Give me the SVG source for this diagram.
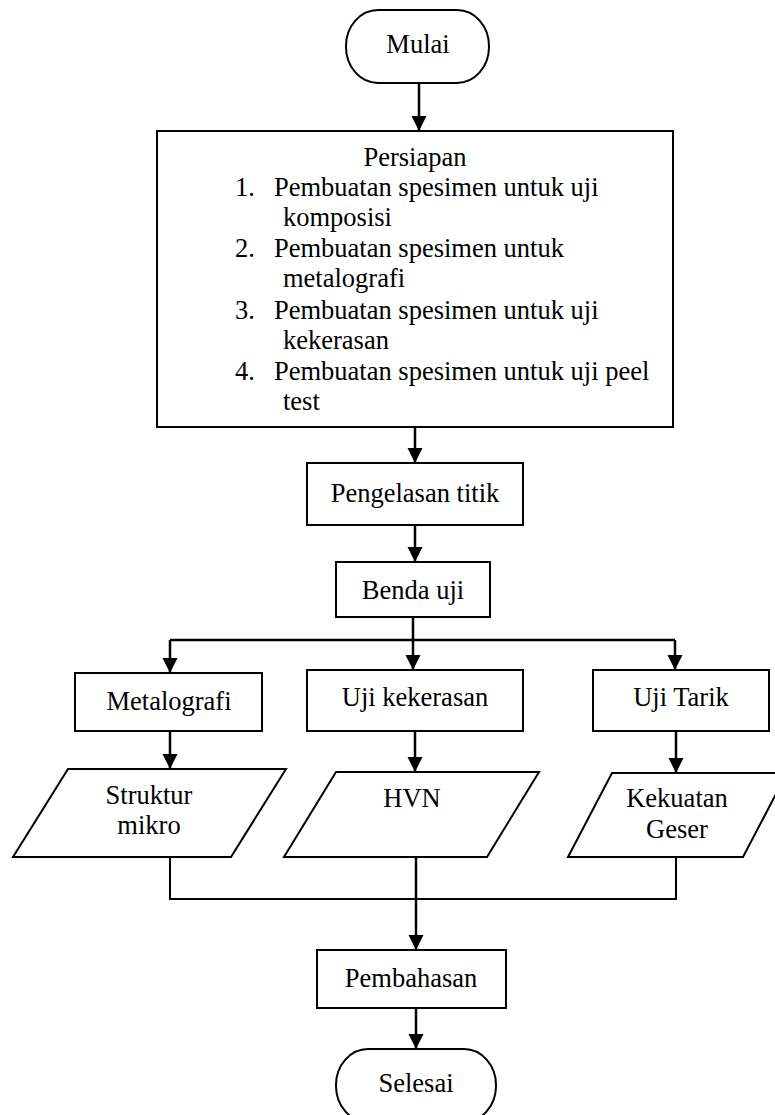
<svg xmlns="http://www.w3.org/2000/svg" width="775" height="1115" viewBox="0 0 775 1115">
<defs>
<marker id="arr" markerUnits="userSpaceOnUse" markerWidth="16" markerHeight="16" refX="15" refY="7.5" orient="auto">
<path d="M0,0 L15,7.5 L0,15 Z" fill="#000"/>
</marker>
<style>
.s{fill:#fff;stroke:#000;stroke-width:2}
.t{font-family:"Liberation Serif","Times New Roman",serif;font-size:26.5px;fill:#000}
.c{text-anchor:middle}
.a{fill:none;stroke:#000;stroke-width:2.5;marker-end:url(#arr)}
.l{fill:none;stroke:#000;stroke-width:2}
</style>
</defs>
<rect width="775" height="1115" fill="#fff"/>
<g id="connectors">
<path class="a" d="M419,83 V131"/>
<path class="a" d="M415,427 V463"/>
<path class="a" d="M415,525 V562"/>
<path class="l" d="M413,617 V640 M170,640 H675" style="stroke-width:2.5"/>
<path class="a" d="M170,640 V673"/>
<path class="a" d="M413,640 V670"/>
<path class="a" d="M675,640 V670"/>
<path class="a" d="M170,731 V769"/>
<path class="a" d="M415,731 V772"/>
<path class="a" d="M676,731 V773"/>
<path class="l" d="M170,857 V899 H676 V857"/>
<path class="a" d="M416,857 V950"/>
<path class="a" d="M416,1008 V1049"/>
</g>
<g id="mulai">
<rect class="s" x="346" y="10" width="143" height="73" rx="32" ry="36"/>
<text class="t c" x="418" y="53">Mulai</text>
</g>
<g id="persiapan">
<rect class="s" x="157" y="131" width="516" height="296"/>
<text class="t c" x="415" y="166">Persiapan</text>
<text class="t" x="235" y="196">1.</text><text class="t" x="274" y="196">Pembuatan spesimen untuk uji</text>
<text class="t" x="283" y="226">komposisi</text>
<text class="t" x="235" y="257">2.</text><text class="t" x="274" y="257">Pembuatan spesimen untuk</text>
<text class="t" x="283" y="287">metalografi</text>
<text class="t" x="235" y="319">3.</text><text class="t" x="274" y="319">Pembuatan spesimen untuk uji</text>
<text class="t" x="283" y="349">kekerasan</text>
<text class="t" x="235" y="380">4.</text><text class="t" x="274" y="380">Pembuatan spesimen untuk uji peel</text>
<text class="t" x="283" y="410">test</text>
</g>
<g id="pengelasan">
<rect class="s" x="307" y="463" width="216" height="62"/>
<text class="t c" x="415" y="502">Pengelasan titik</text>
</g>
<g id="benda-uji">
<rect class="s" x="336" y="562" width="154" height="55"/>
<text class="t c" x="413" y="599">Benda uji</text>
</g>
<g id="metalografi">
<rect class="s" x="75" y="673" width="187" height="58"/>
<text class="t c" x="169" y="710">Metalografi</text>
</g>
<g id="uji-kekerasan">
<rect class="s" x="307" y="670" width="216" height="61"/>
<text class="t c" x="415" y="706">Uji kekerasan</text>
</g>
<g id="uji-tarik">
<rect class="s" x="593" y="670" width="176" height="61"/>
<text class="t c" x="681" y="706">Uji Tarik</text>
</g>
<g id="struktur-mikro">
<polygon class="s" points="68,769 286,769 231,857 13,857"/>
<text class="t c" x="149" y="804">Struktur</text>
<text class="t c" x="149" y="834">mikro</text>
</g>
<g id="hvn">
<polygon class="s" points="336,772 539,772 487,857 284,857"/>
<text class="t c" x="412" y="807">HVN</text>
</g>
<g id="kekuatan-geser">
<polygon class="s" points="612,773 787,773 743,857 568,857"/>
<text class="t c" x="677" y="807">Kekuatan</text>
<text class="t c" x="677" y="838">Geser</text>
</g>
<g id="pembahasan">
<rect class="s" x="317" y="950" width="189" height="58"/>
<text class="t c" x="411" y="987">Pembahasan</text>
</g>
<g id="selesai">
<rect class="s" x="336" y="1049" width="160" height="73" rx="32" ry="36"/>
<text class="t c" x="416" y="1092">Selesai</text>
</g>
</svg>
